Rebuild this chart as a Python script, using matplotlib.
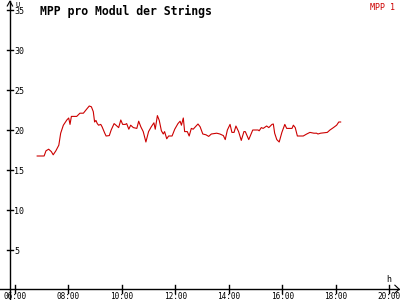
import matplotlib
matplotlib.use("Agg")
import matplotlib.pyplot as plt

# ----- data -----------------------------------------------------------------
hours = [6.83, 7.09, 7.16, 7.26, 7.36, 7.43, 7.53, 7.64, 7.71, 7.81,
         7.94, 8.01, 8.06, 8.11, 8.31, 8.43, 8.56, 8.68, 8.78, 8.86,
         8.93, 8.98, 9.03, 9.08, 9.13, 9.21, 9.26, 9.36, 9.41, 9.53,
         9.60, 9.71, 9.78, 9.88, 9.96, 10.03, 10.13, 10.18, 10.26, 10.33,
         10.43, 10.56, 10.63, 10.71, 10.80, 10.90, 11.00, 11.10, 11.20, 11.25,
         11.33, 11.40, 11.48, 11.55, 11.60, 11.68, 11.75, 11.88, 11.98, 12.10,
         12.18, 12.23, 12.30, 12.35, 12.45, 12.52, 12.60, 12.67, 12.78, 12.85,
         12.93, 13.03, 13.15, 13.25, 13.35, 13.55, 13.67, 13.80, 13.87, 13.95,
         14.05, 14.12, 14.20, 14.27, 14.37, 14.47, 14.57, 14.62, 14.75, 14.90,
         15.10, 15.14, 15.22, 15.29, 15.42, 15.50, 15.62, 15.67, 15.72, 15.80,
         15.89, 15.99, 16.10, 16.17, 16.37, 16.42, 16.49, 16.57, 16.79, 16.92,
         17.04, 17.19, 17.29, 17.34, 17.44, 17.69, 17.79, 17.92, 18.04, 18.12,
         18.19]
mpp1 = [16.75, 16.75, 17.4, 17.6, 17.3, 16.9, 17.4, 18.1, 19.6, 20.6,
        21.25, 21.5, 20.7, 21.7, 21.7, 22.1, 22.1, 22.6, 23.0, 22.9,
        22.3, 21.0, 21.2, 20.8, 20.6, 20.7, 20.4, 19.6, 19.25, 19.3,
        20.0, 20.8, 20.6, 20.3, 21.25, 20.7, 20.7, 20.8, 20.1, 20.6,
        20.3, 20.2, 21.1, 20.4, 19.8, 18.5, 19.8, 20.4, 20.9, 20.1,
        21.8, 21.2, 19.9, 19.5, 19.8, 18.9, 19.25, 19.25, 20.1, 20.8,
        21.1, 20.6, 21.5, 19.8, 19.8, 19.25, 20.2, 20.1, 20.5, 20.75,
        20.4, 19.5, 19.4, 19.2, 19.5, 19.6, 19.5, 19.3, 18.8, 20.0,
        20.7, 19.7, 19.7, 20.5, 19.8, 18.7, 19.8, 19.8, 18.8, 20.0,
        20.0, 19.9, 20.3, 20.2, 20.5, 20.3, 20.7, 20.75, 19.6, 18.8,
        18.5, 19.7, 20.7, 20.2, 20.2, 20.6, 20.3, 19.25, 19.25, 19.5,
        19.7, 19.6, 19.6, 19.5, 19.6, 19.7, 20.0, 20.3, 20.6, 21.0,
        21.0]

x_ticks = [6, 8, 10, 12, 14, 16, 18, 20]
x_labels = ["06:00", "08:00", "10:00", "12:00", "14:00", "16:00", "18:00", "20:00"]
y_ticks = [5, 10, 15, 20, 25, 30, 35]
# -----------------------------------------------------------------------------

red = "#cc0000"
mono = "DejaVu Sans Mono"

fig = plt.figure(figsize=(4, 3), dpi=100, facecolor="white")
ax = fig.add_axes([0, 0, 1, 1])
ax.set_xlim(5.4385, 20.412)
ax.set_ylim(-1.25, 36.25)
ax.axis("off")

x0 = 5.81   # where the y axis sits
# axes lines with arrows
ax.plot([x0, x0], [-1.25, 36.1], color="black", lw=1)
ax.plot([5.4385, 20.38], [0.1, 0.1], color="black", lw=1)
ax.plot([x0 - 0.1, x0, x0 + 0.1], [35.5, 36.1, 35.5], color="black", lw=0.8)
ax.plot([20.22, 20.38, 20.22], [0.6, 0.1, -0.4], color="black", lw=0.8)

# ticks crossing the axes
for t in y_ticks:
    ax.plot([x0 - 0.11, x0 + 0.11], [t, t], color="black", lw=1)
    ax.text(x0 + 0.16, t - 0.15, str(t), fontsize=6, family=mono,
            ha="left", va="center")
for t, lab in zip(x_ticks, x_labels):
    ax.plot([t, t], [-0.4, 0.6], color="black", lw=1)
    ax.text(t, -0.3, lab, fontsize=5.6, family=mono, ha="center", va="top")

ax.text(x0 + 0.2, 36.0, "U", fontsize=5, family=mono, ha="left", va="top")
ax.text(20.0, 0.8, "h", fontsize=6, family=mono, ha="center", va="bottom")

ax.plot(hours, mpp1, color=red, lw=0.8)

fig.text(0.1, 0.985, "MPP pro Modul der Strings", fontsize=8.3, family=mono,
         fontweight="bold", ha="left", va="top")
fig.text(0.988, 0.99, "MPP 1", fontsize=6, family=mono, color=red,
         ha="right", va="top")

fig.savefig("out.png", dpi=100, facecolor="white")
